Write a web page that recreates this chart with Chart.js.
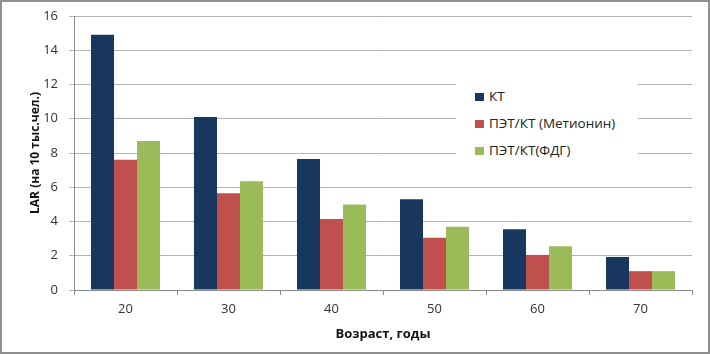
<!DOCTYPE html>
<html>
<head>
<meta charset="utf-8">
<script src="https://cdn.jsdelivr.net/npm/chart.js"></script>
<style>
  html, body { margin: 0; padding: 0; background: #fff; }
  #wrap { position: relative; width: 710px; height: 354px; }
  #frame { position: absolute; left: 0; top: 0; width: 710px; height: 354px; box-sizing: border-box;
           border: 2px solid #8f8f8f; pointer-events: none; }
  #legend { position: absolute; left: 456px; top: 78px; width: 182px; height: 88px; background: #fff;
            font-family: "Open Sans", sans-serif; font-size: 13.5px; color: #222; }
  #legend div { position: absolute; left: 19px; white-space: nowrap; }
  #legend span { display: inline-block; width: 9px; height: 8px; margin-right: 5px; vertical-align: 0px; }
</style>
</head>
<body>
<div id="wrap">
  <canvas id="c" width="710" height="354"></canvas>
  <div id="legend"></div>
  <div id="frame"></div>
</div>
<script>
// --------------------------
// Data
// --------------------------
const ages = ['20', '30', '40', '50', '60', '70'];
const seriesNames = ['КТ', 'ПЭТ/КТ (Метионин)', 'ПЭТ/КТ(ФДГ)'];
const ct = [14.9, 10.1, 7.65, 5.3, 3.55, 1.93];
const petMet = [7.6, 5.65, 4.15, 3.05, 2.05, 1.1];
const petFdg = [8.7, 6.35, 5.0, 3.7, 2.55, 1.1];
const yTicks = [0, 2, 4, 6, 8, 10, 12, 14, 16];

const colors = ['#17375e', '#c0504d', '#9bbb59'];
const font = '"Open Sans", sans-serif';

// --------------------------
// Legend (inside plot, white box)
// --------------------------
const legend = document.getElementById('legend');
seriesNames.forEach((name, i) => {
  const div = document.createElement('div');
  div.style.top = (9 + i * 27) + 'px';
  div.innerHTML = `<span style="background:${colors[i]}"></span>${name}`;
  legend.appendChild(div);
});

// --------------------------
// Chart
// --------------------------
const ctx = document.getElementById('c').getContext('2d');
new Chart(ctx, {
  type: 'bar',
  data: {
    labels: ages,
    datasets: [ct, petMet, petFdg].map((d, i) => ({
      label: seriesNames[i],
      data: d,
      backgroundColor: colors[i],
      barPercentage: 1,
      categoryPercentage: 0.67
    }))
  },
  options: {
    responsive: false,
    animation: false,
    layout: { padding: { top: 16, right: 18, left: 24, bottom: 12 } },
    plugins: { legend: { display: false }, tooltip: { enabled: false } },
    scales: {
      x: {
        grid: { drawOnChartArea: false, drawTicks: true, tickLength: 5, color: '#8a8a8a' },
        border: { color: '#8a8a8a' },
        ticks: { color: '#333', font: { family: font, size: 13 }, padding: 6 },
        title: { display: true, text: 'Возраст, годы', color: '#111',
                 font: { family: font, size: 13, weight: 'bold' }, padding: { top: 4, bottom: 0 } },
        afterFit: (s) => { s.height = 52; }
      },
      y: {
        min: 0, max: 16,
        afterBuildTicks: (s) => { s.ticks = yTicks.map(v => ({ value: v })); },
        grid: { color: '#b4b4b4', tickLength: 5 },
        border: { color: '#8a8a8a' },
        ticks: { color: '#333', font: { family: font, size: 13 }, padding: 11 },
        title: { display: true, text: 'LAR (на 10 тыс.чел.)', color: '#111',
                 font: { family: font, size: 12, weight: 'bold' }, padding: { bottom: 2 } },
        afterFit: (s) => { s.width = 50; s.paddingTop = 0; s.paddingBottom = 0; }
      }
    }
  }
});
</script>
</body>
</html>
